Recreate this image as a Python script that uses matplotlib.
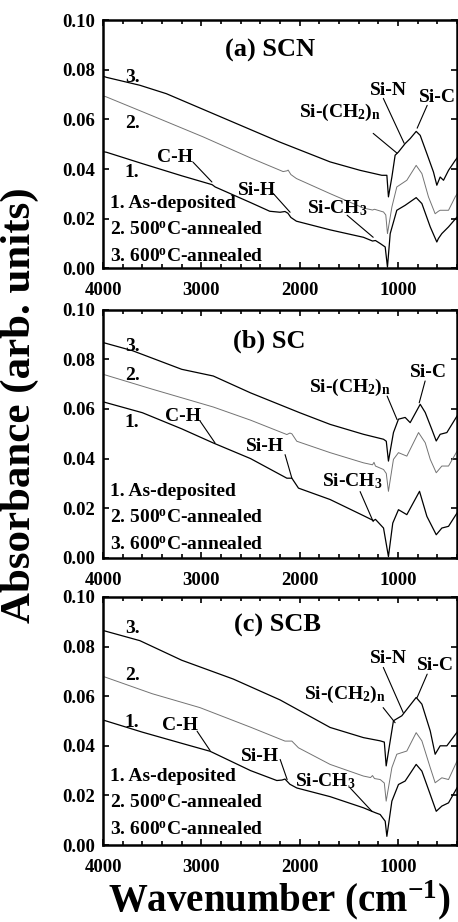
import matplotlib
matplotlib.use('Agg')
import matplotlib.pyplot as plt
from matplotlib.ticker import MultipleLocator

plt.rcParams['font.family'] = 'Liberation Serif'
plt.rcParams['font.weight'] = 'bold'
plt.rcParams['mathtext.fontset'] = 'custom'
plt.rcParams['mathtext.rm'] = 'Liberation Serif:bold'
plt.rcParams['mathtext.it'] = 'Liberation Serif:bold'
plt.rcParams['mathtext.bf'] = 'Liberation Serif:bold'

# ---- data (wavenumber cm-1, absorbance) ----
# (a) SCN
scn_wn_1 = [4000, 3966, 3600, 3200, 2915, 2890, 2860, 2500, 2305, 2200, 2150, 2120, 2090, 2034, 1691, 1352,
            1260, 1230, 1182, 1131, 1108, 1080, 1013, 928, 816, 758, 673, 606, 590, 555, 487, 400]
scn_ab_1 = [0.0470, 0.0468, 0.0422, 0.0373, 0.0340, 0.0337, 0.0328, 0.0265, 0.0230, 0.0226, 0.0229, 0.0222,
            0.0205, 0.0190, 0.0155, 0.0125, 0.0110, 0.0112, 0.0100, 0.0086, 0.0005, 0.0140, 0.0234, 0.0254,
            0.0285, 0.0261, 0.0167, 0.0106, 0.0120, 0.0140, 0.0167, 0.0207]
scn_wn_2 = [4000, 3966, 3500, 2983, 2500, 2169, 2130, 2118, 2090, 2034, 1691, 1352, 1260, 1240, 1148, 1125,
            1108, 1063, 1013, 911, 816, 758, 691, 623, 590, 572, 487, 419, 400]
scn_ab_2 = [0.0695, 0.0691, 0.0615, 0.0530, 0.0445, 0.0390, 0.0393, 0.0396, 0.0378, 0.0362, 0.0301, 0.0243,
            0.0235, 0.0238, 0.0227, 0.0215, 0.0140, 0.0247, 0.0328, 0.0355, 0.0415, 0.0382, 0.0288, 0.0220,
            0.0230, 0.0234, 0.0234, 0.0288, 0.0300]
scn_wn_3 = [4000, 3966, 3626, 3356, 2800, 2203, 1691, 1386, 1165, 1114, 1098, 1063, 1030, 996, 928, 877, 816,
            775, 707, 640, 606, 572, 538, 487, 419, 400]
scn_ab_3 = [0.0775, 0.0770, 0.0738, 0.0704, 0.0610, 0.0509, 0.0429, 0.0395, 0.0375, 0.0375, 0.0288, 0.0368,
            0.0456, 0.0469, 0.0503, 0.0523, 0.0552, 0.0536, 0.0462, 0.0388, 0.0335, 0.0368, 0.0355, 0.0395,
            0.0435, 0.0445]

# (b) SC
sc_wn_1 = [4000, 3600, 3200, 2879, 2500, 2131, 2080, 2013, 1691, 1352, 1250, 1230, 1148, 1098, 1054, 996,
           911, 782, 707, 612, 555, 487, 400]
sc_ab_1 = [0.0629, 0.0585, 0.0520, 0.0463, 0.0400, 0.0321, 0.0321, 0.0281, 0.0235, 0.0170, 0.0150, 0.0155,
           0.0120, 0.0005, 0.0140, 0.0194, 0.0174, 0.0268, 0.0167, 0.0093, 0.0120, 0.0127, 0.0181]
sc_wn_2 = [4000, 3500, 2879, 2500, 2131, 2100, 2080, 2030, 1691, 1352, 1260, 1245, 1230, 1148, 1120, 1098,
           1047, 996, 911, 792, 724, 673, 612, 555, 487, 400]
sc_ab_2 = [0.0740, 0.0680, 0.0608, 0.0555, 0.0497, 0.0503, 0.0500, 0.0470, 0.0424, 0.0383, 0.0375, 0.0385,
           0.0370, 0.0356, 0.0340, 0.0268, 0.0397, 0.0424, 0.0410, 0.0505, 0.0464, 0.0397, 0.0343, 0.0370,
           0.0370, 0.0430]
sc_wn_3 = [4000, 3700, 3200, 2879, 2500, 2000, 1691, 1352, 1148, 1120, 1098, 1047, 996, 928, 877, 775, 724,
           657, 612, 572, 504, 400]
sc_ab_3 = [0.0868, 0.0835, 0.0760, 0.0733, 0.0665, 0.0585, 0.0538, 0.0498, 0.0478, 0.0470, 0.0390, 0.0505,
           0.0559, 0.0566, 0.0545, 0.0619, 0.0586, 0.0518, 0.0471, 0.0498, 0.0505, 0.0572]

# (c) SCB
scb_wn_1 = [4000, 3600, 3200, 2912, 2880, 2500, 2233, 2180, 2150, 2100, 2030, 1691, 1352, 1267, 1230, 1182,
            1131, 1114, 1063, 996, 928, 816, 758, 673, 612, 555, 487, 400]
scb_ab_1 = [0.0504, 0.0455, 0.0410, 0.0378, 0.0372, 0.0300, 0.0260, 0.0262, 0.0266, 0.0245, 0.0230, 0.0195,
            0.0150, 0.0136, 0.0130, 0.0123, 0.0096, 0.0035, 0.0177, 0.0244, 0.0258, 0.0325, 0.0298, 0.0204,
            0.0136, 0.0157, 0.0170, 0.0231]
scb_wn_2 = [4000, 3500, 3015, 2500, 2150, 2080, 2013, 1691, 1352, 1280, 1260, 1240, 1182, 1140, 1121, 1063,
            1013, 911, 816, 758, 673, 623, 555, 487, 400]
scb_ab_2 = [0.0680, 0.0610, 0.0554, 0.0475, 0.0419, 0.0419, 0.0392, 0.0325, 0.0278, 0.0272, 0.0280, 0.0268,
            0.0264, 0.0250, 0.0177, 0.0312, 0.0366, 0.0379, 0.0453, 0.0420, 0.0312, 0.0251, 0.0271, 0.0264,
            0.0339]
scb_wn_3 = [4000, 3626, 3200, 2675, 2200, 1691, 1352, 1182, 1140, 1121, 1080, 1047, 962, 816, 758, 673, 623,
            572, 504, 400]
scb_ab_3 = [0.0865, 0.0824, 0.0745, 0.0669, 0.0585, 0.0474, 0.0433, 0.0420, 0.0415, 0.0319, 0.0420, 0.0501,
            0.0521, 0.0595, 0.0568, 0.0460, 0.0366, 0.0400, 0.0400, 0.0455]

titles = ['(a) SCN', '(b) SC', '(c) SCB']
legend_lines = ['1. As-deposited', '2. 500$^{\\rm o}$C-annealed', '3. 600$^{\\rm o}$C-annealed']

fig = plt.figure(figsize=(4.58, 9.22), dpi=100)
bottoms = [0.709, 0.395, 0.0835]
axes = [fig.add_axes([0.225, b, 0.773, 0.269]) for b in bottoms]

spectra = [
    [(scn_wn_1, scn_ab_1), (scn_wn_2, scn_ab_2), (scn_wn_3, scn_ab_3)],
    [(sc_wn_1, sc_ab_1), (sc_wn_2, sc_ab_2), (sc_wn_3, sc_ab_3)],
    [(scb_wn_1, scb_ab_1), (scb_wn_2, scb_ab_2), (scb_wn_3, scb_ab_3)],
]

for ax, sp in zip(axes, spectra):
    ax.plot(sp[0][0], sp[0][1], color='black', lw=0.9)
    ax.plot(sp[1][0], sp[1][1], color='0.45', lw=0.7)
    ax.plot(sp[2][0], sp[2][1], color='black', lw=0.9)
    ax.set_xlim(4000, 400)
    ax.set_ylim(0, 0.1)
    ax.xaxis.set_major_locator(MultipleLocator(1000))
    ax.xaxis.set_minor_locator(MultipleLocator(200))
    ax.yaxis.set_major_locator(MultipleLocator(0.02))
    ax.set_yticklabels([])
    ax.set_yticks([0, 0.02, 0.04, 0.06, 0.08, 0.1])
    ax.set_yticklabels(['0.00', '0.02', '0.04', '0.06', '0.08', '0.10'])
    ax.tick_params(which='both', direction='in', top=True, right=True, width=1.2, labelsize=13.5)
    ax.tick_params(which='major', length=4)
    ax.tick_params(which='minor', length=3)
    ax.tick_params(axis='x', pad=10)
    ax.tick_params(axis='y', pad=6)
    for s in ax.spines.values():
        s.set_linewidth(1.8)

# titles, curve numbers, legend text
title_pos = [(2301, 0.088), (2311, 0.0875), (2230, 0.0885)]
num_pos = [[(3705, 0.0387), (3705, 0.0585), (3705, 0.077)],
           [(3705, 0.0547), (3705, 0.0735), (3705, 0.085)],
           [(3705, 0.0493), (3705, 0.0682), (3705, 0.0872)]]
leg_y = [[0.0262, 0.0153, 0.0044], [0.0267, 0.0159, 0.0051], [0.0277, 0.0169, 0.0061]]

for i, ax in enumerate(axes):
    ax.text(title_pos[i][0], title_pos[i][1], titles[i], fontsize=19, ha='center', va='center')
    for k in range(3):
        ax.text(num_pos[i][k][0], num_pos[i][k][1], '%d.' % (k + 1), fontsize=14, ha='center', va='center')
        ax.text(3930, leg_y[i][k], legend_lines[k], fontsize=14, ha='left', va='center')

# band labels with leader lines: (text, text pos, line start, line end)
bands = [
    [('C-H', (3268, 0.0448), (3085, 0.0428), (2893, 0.0348)),
     ('Si-H', (2434, 0.0315), (2270, 0.0302), (2098, 0.0226)),
     ('Si-CH$_3$', (1620, 0.0242), (1518, 0.0214), (1253, 0.0125)),
     ('Si-(CH$_2$)$_{\\rm n}$', (1590, 0.0629), (1253, 0.0544), (1010, 0.0464)),
     ('Si-N', (1100, 0.0718), (1150, 0.0685), (938, 0.0504)),
     ('Si-C', (602, 0.069), (704, 0.0657), (806, 0.0565))],
    [('C-H', (3186, 0.0571), (3013, 0.0551), (2861, 0.0463)),
     ('Si-H', (2352, 0.0449), (2149, 0.0416), (2080, 0.0321)),
     ('Si-CH$_3$', (1467, 0.0308), (1386, 0.0267), (1253, 0.0146)),
     ('Si-(CH$_2$)$_{\\rm n}$', (1487, 0.0686), (1111, 0.0652), (1010, 0.0557)),
     ('Si-C', (694, 0.0746), (725, 0.0713), (785, 0.0625))],
    [('C-H', (3217, 0.048), (3044, 0.0459), (2912, 0.0381)),
     ('Si-H', (2403, 0.0358), (2199, 0.0345), (2128, 0.0264)),
     ('Si-CH$_3$', (1742, 0.0257), (1487, 0.023), (1264, 0.0135)),
     ('Si-(CH$_2$)$_{\\rm n}$', (1538, 0.0608), (1152, 0.0554), (1030, 0.0493)),
     ('Si-N', (1100, 0.075), (1150, 0.0716), (948, 0.0534)),
     ('Si-C', (623, 0.0723), (704, 0.0689), (806, 0.0595))],
]
for ax, bl in zip(axes, bands):
    for label, tp, p0, p1 in bl:
        ax.text(tp[0], tp[1], label, fontsize=14, ha='center', va='center')
        ax.annotate('', xy=p1, xytext=p0,
                    arrowprops=dict(arrowstyle='-', lw=0.8, color='black', shrinkA=0, shrinkB=0))

fig.text(0.044, 1 - 405 / 922, 'Absorbance (arb. units)', rotation=90, fontsize=31,
         ha='center', va='center')
fig.text(0.611, 0.024, 'Wavenumber (cm$^{-1}$)', fontsize=28, ha='center', va='center')

fig.savefig('out.png', dpi=100)
